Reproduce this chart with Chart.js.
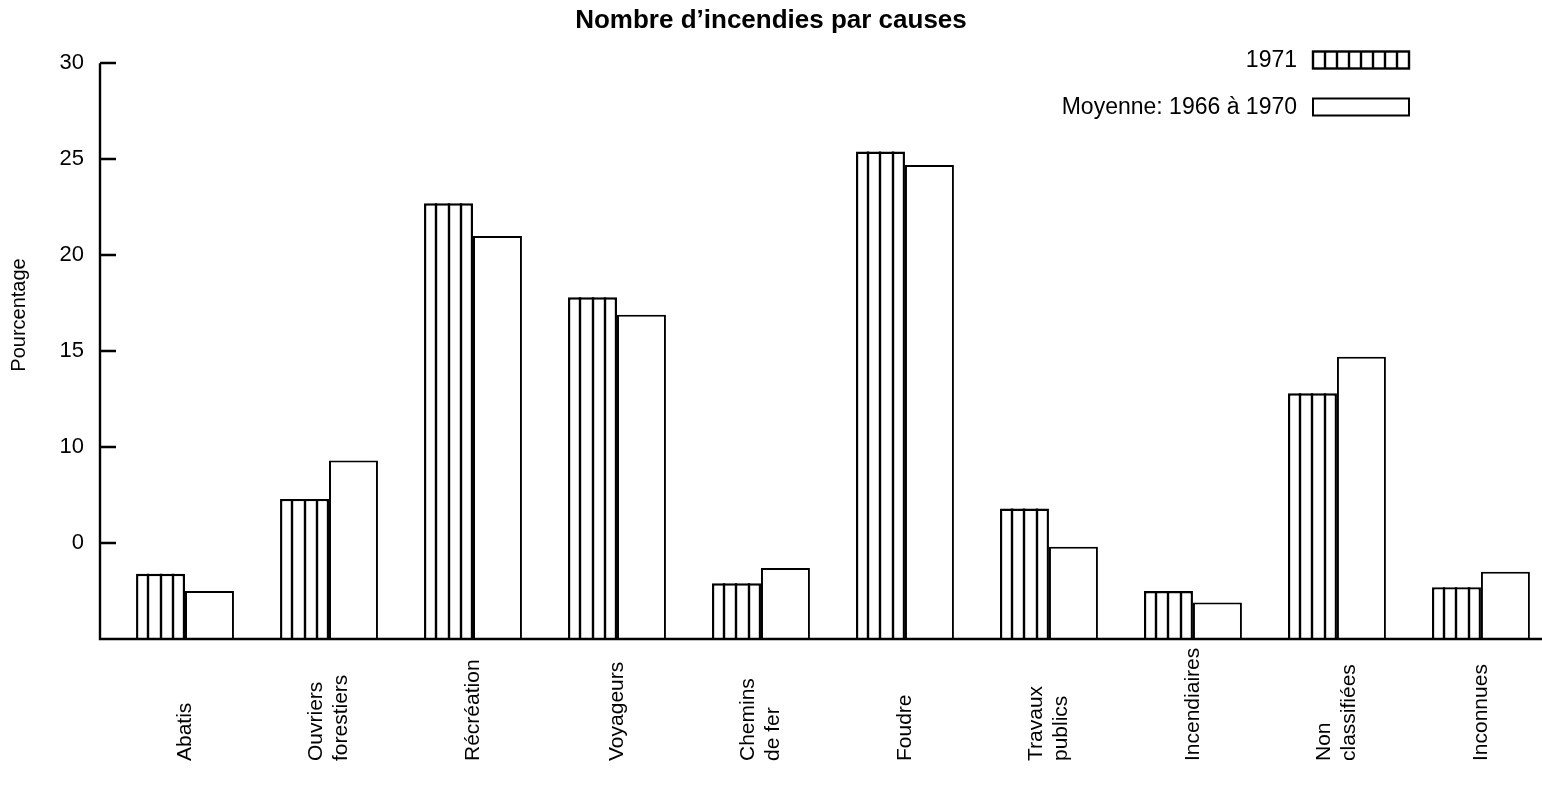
<!DOCTYPE html>
<html>
<head>
<meta charset="utf-8">
<script src="https://cdn.jsdelivr.net/npm/chart.js@4.4.1/dist/chart.umd.min.js"></script>
<style>
  html, body { margin: 0; padding: 0; background: #ffffff; }
  #wrap { width: 1542px; height: 795px; }
</style>
</head>
<body>
<div id="wrap"><canvas id="c" width="1542" height="795"></canvas></div>
<script>
// ---- Data ----
const categories = ['Abatis', ['Ouvriers', 'forestiers'], 'Récréation', 'Voyageurs', ['Chemins', 'de fer'], 'Foudre', ['Travaux', 'publics'], 'Incendiaires', ['Non', 'classifiées'], 'Inconnues'];
const values1971 = [3.4, 7.3, 22.7, 17.8, 2.9, 25.4, 6.8, 2.5, 12.8, 2.7];
const valuesMoyenne = [2.5, 9.3, 21.0, 16.9, 3.7, 24.7, 4.8, 1.9, 14.7, 3.5];
const seriesLabels = ['1971', 'Moyenne: 1966 à 1970'];
const yTickValues = [0, 5, 10, 15, 20, 25, 30];
const yTickLabels = ['', '0', '10', '15', '20', '25', '30'];
const chartTitle = 'Nombre d’incendies par causes';
const yTitle = 'Pourcentage';

const FONT = '"Liberation Sans", Arial, Helvetica, sans-serif';

const toPoints = arr => arr.map((v, i) => ({ x: i, y: v }));

const decorPlugin = {
  id: 'decor',
  afterDatasetsDraw(chart) {
    const ctx = chart.ctx;
    // vertical stripes inside 1971 bars
    const meta = chart.getDatasetMeta(0);
    ctx.save();
    ctx.strokeStyle = '#000';
    ctx.lineWidth = 2.4;
    meta.data.forEach(bar => {
      const p = bar.getProps(['x', 'y', 'width', 'base'], true);
      const left = p.x - p.width / 2;
      ctx.beginPath();
      for (let k = 1; k <= 3; k++) {
        const xx = Math.round(left + p.width * k / 4);
        ctx.moveTo(xx, p.y);
        ctx.lineTo(xx, p.base);
      }
      ctx.stroke();
    });
    ctx.restore();
  },
  afterDraw(chart) {
    const ctx = chart.ctx;
    const ys = chart.scales.y;
    const xs = chart.scales.x;
    const axisX = 100;
    const baseY = ys.getPixelForValue(0);
    ctx.save();
    ctx.strokeStyle = '#000';
    ctx.lineWidth = 2.4;
    // axes lines
    ctx.beginPath();
    ctx.moveTo(axisX, ys.getPixelForValue(30));
    ctx.lineTo(axisX, baseY);
    ctx.lineTo(1542, baseY);
    ctx.stroke();
    // inward tick marks
    ctx.beginPath();
    yTickValues.forEach(v => {
      if (v === 0) return;
      const py = Math.round(ys.getPixelForValue(v));
      ctx.moveTo(axisX, py);
      ctx.lineTo(axisX + 16, py);
    });
    ctx.stroke();

    // y title
    ctx.fillStyle = '#000';
    ctx.font = '20px ' + FONT;
    ctx.textAlign = 'center';
    ctx.textBaseline = 'middle';
    ctx.save();
    ctx.translate(19, 315);
    ctx.rotate(-Math.PI / 2);
    ctx.fillText(yTitle, 0, 0);
    ctx.restore();

    // x category labels (rotated, bottom aligned)
    ctx.font = '21px ' + FONT;
    ctx.textAlign = 'left';
    ctx.textBaseline = 'middle';
    categories.forEach((lab, i) => {
      const px = xs.getPixelForValue(i);
      const lines = Array.isArray(lab) ? lab : [lab];
      ctx.save();
      ctx.translate(px, 761);
      ctx.rotate(-Math.PI / 2);
      lines.forEach((ln, j) => {
        ctx.fillText(ln, 0, (j - (lines.length - 1) / 2) * 25);
      });
      ctx.restore();
    });

    // legend
    ctx.font = '23px ' + FONT;
    ctx.textAlign = 'right';
    ctx.textBaseline = 'middle';
    const legendRows = [60, 107];
    const boxL = 1313, boxW = 96, boxH = 17;
    seriesLabels.forEach((lab, i) => {
      const cy = legendRows[i];
      ctx.fillText(lab, 1297, cy + 1);
      ctx.lineWidth = i === 0 ? 2.4 : 2;
      ctx.strokeRect(boxL, cy - boxH / 2, boxW, boxH);
      if (i === 0) {
        ctx.beginPath();
        for (let k = 1; k < 8; k++) {
          const xx = Math.round(boxL + boxW * k / 8);
          ctx.moveTo(xx, cy - boxH / 2);
          ctx.lineTo(xx, cy + boxH / 2);
        }
        ctx.stroke();
      }
    });
    ctx.restore();
  }
};

new Chart(document.getElementById('c'), {
  type: 'bar',
  data: {
    datasets: [
      {
        label: seriesLabels[0],
        data: toPoints(values1971),
        backgroundColor: '#ffffff',
        borderColor: '#000000',
        borderWidth: 2.4,
        barPercentage: 1,
        categoryPercentage: 0.68
      },
      {
        label: seriesLabels[1],
        data: toPoints(valuesMoyenne),
        backgroundColor: '#ffffff',
        borderColor: '#000000',
        borderWidth: 2,
        barPercentage: 1,
        categoryPercentage: 0.68
      }
    ]
  },
  options: {
    responsive: false,
    animation: false,
    devicePixelRatio: 1,
    layout: { padding: { left: 0, right: 0, top: 0, bottom: 156 } },
    plugins: {
      legend: { display: false },
      tooltip: { enabled: false },
      title: {
        display: true,
        text: chartTitle,
        color: '#000',
        font: { family: FONT, size: 26, weight: 'bold' },
        padding: { top: 5, bottom: 27 }
      }
    },
    scales: {
      x: {
        type: 'linear',
        display: false,
        offset: false,
        min: -0.5,
        max: 9.424,
        afterBuildTicks(scale) { scale.ticks = categories.map((c, i) => ({ value: i })); }
      },
      y: {
        min: 0,
        max: 30,
        afterFit(scale) { scale.width = 113; },
        afterBuildTicks(scale) { scale.ticks = yTickValues.map(v => ({ value: v })); },
        ticks: {
          stepSize: 5,
          padding: 29,
          color: '#000',
          font: { family: FONT, size: 22 },
          callback: (value) => {
            const idx = yTickValues.indexOf(value);
            return idx >= 0 ? yTickLabels[idx] : '';
          }
        },
        grid: { display: false, drawTicks: false },
        border: { display: false }
      }
    }
  },
  plugins: [decorPlugin]
});
</script>
</body>
</html>
